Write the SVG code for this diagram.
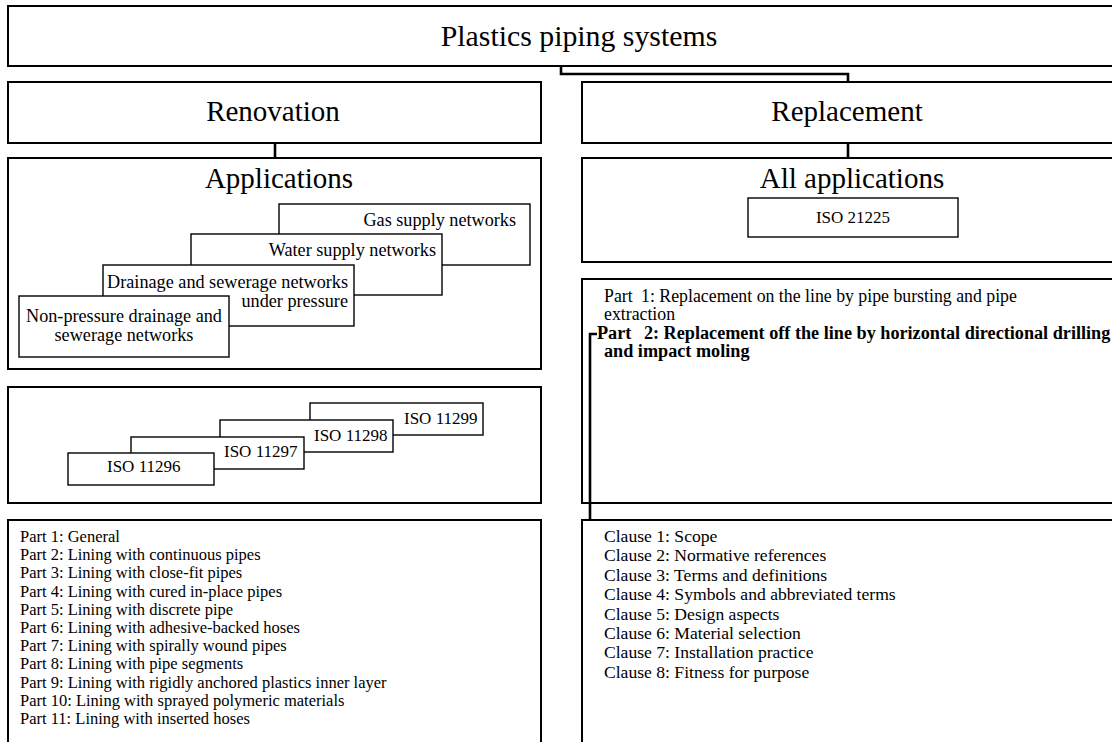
<svg xmlns="http://www.w3.org/2000/svg" width="1112" height="742" viewBox="0 0 1112 742">
<style>
.box{fill:#fff;stroke:#000;stroke-width:2}
.ibox{fill:#fff;stroke:#000;stroke-width:1.4}
.conn{fill:none;stroke:#000;stroke-width:2.6}
text{font-family:"Liberation Serif","Times New Roman",serif;fill:#000}
.t0{font-size:29.8px;text-anchor:middle}
.t1{font-size:29px;text-anchor:middle}
.t2{font-size:18.2px}
.ti{font-size:17px}
.tp{font-size:16.5px}
.tc{font-size:17.6px}
.tr{font-size:17.8px}
.b{font-weight:bold;font-size:18.2px}
.m{text-anchor:middle}
.e{text-anchor:end}
</style>
<rect width="1112" height="742" fill="#fff"/>
<g id="connectors">
<path class="conn" d="M561,66 V74 H848 V82"/>
<path class="conn" d="M275,143 V158"/>
<path class="conn" d="M848,143 V158"/>
</g>
<g id="n-root"><rect class="box" x="8" y="6" width="1112" height="60"/><text class="t0" x="579" y="46">Plastics piping systems</text></g>
<g id="n-renovation"><rect class="box" x="8" y="82" width="533" height="61"/><text class="t1" x="273" y="121">Renovation</text></g>
<g id="n-replacement"><rect class="box" x="582" y="82" width="538" height="61"/><text class="t1" x="847" y="121">Replacement</text></g>
<g id="n-applications"><rect class="box" x="8" y="158" width="533" height="211"/><text class="t1" x="279" y="188">Applications</text>
<g id="n-gas"><rect class="ibox" x="279" y="204" width="251" height="61"/><text class="t2 e" x="516" y="226">Gas supply networks</text></g>
<g id="n-water"><rect class="ibox" x="191" y="234" width="251" height="61"/><text class="t2 e" x="436" y="256">Water supply networks</text></g>
<g id="n-drainage"><rect class="ibox" x="103" y="265" width="251" height="61"/><text class="t2 e" x="348" y="288">Drainage and sewerage networks</text><text class="t2 e" x="348" y="307">under pressure</text></g>
<g id="n-nonpressure"><rect class="ibox" x="19" y="296" width="210" height="61"/><text class="t2 m" x="124" y="322">Non-pressure drainage and</text><text class="t2 m" x="124" y="341">sewerage networks</text></g>
</g>
<g id="n-iso-renovation"><rect class="box" x="8" y="387" width="533" height="116"/>
<g id="n-iso11299"><rect class="ibox" x="310" y="403" width="173" height="32"/><text class="ti" x="404" y="424">ISO 11299</text></g>
<g id="n-iso11298"><rect class="ibox" x="220" y="420" width="173" height="32"/><text class="ti" x="314" y="441">ISO 11298</text></g>
<g id="n-iso11297"><rect class="ibox" x="131" y="437" width="173" height="32"/><text class="ti" x="224" y="457">ISO 11297</text></g>
<g id="n-iso11296"><rect class="ibox" x="68" y="453" width="146" height="32"/><text class="ti" x="107" y="472">ISO 11296</text></g>
</g>
<g id="n-parts-renovation"><rect class="box" x="8" y="520" width="533" height="240"/>
<text class="tp" x="20" y="542">Part 1: General</text>
<text class="tp" x="20" y="560.2">Part 2: Lining with continuous pipes</text>
<text class="tp" x="20" y="578.4">Part 3: Lining with close-fit pipes</text>
<text class="tp" x="20" y="596.6">Part 4: Lining with cured in-place pipes</text>
<text class="tp" x="20" y="614.8">Part 5: Lining with discrete pipe</text>
<text class="tp" x="20" y="633">Part 6: Lining with adhesive-backed hoses</text>
<text class="tp" x="20" y="651.2">Part 7: Lining with spirally wound pipes</text>
<text class="tp" x="20" y="669.4">Part 8: Lining with pipe segments</text>
<text class="tp" x="20" y="687.6">Part 9: Lining with rigidly anchored plastics inner layer</text>
<text class="tp" x="20" y="705.8">Part 10: Lining with sprayed polymeric materials</text>
<text class="tp" x="20" y="724">Part 11: Lining with inserted hoses</text>
</g>
<g id="n-all-applications"><rect class="box" x="582" y="158" width="538" height="104"/><text class="t1" x="852" y="188">All applications</text>
<g id="n-iso21225"><rect class="ibox" x="748" y="198" width="210" height="39"/><text class="ti m" x="853" y="223">ISO 21225</text></g>
</g>
<g id="n-parts-replacement"><rect class="box" x="582" y="279" width="538" height="224"/>
<text class="tr" x="604" y="302">Part <tspan dx="4">1: Replacement on the line by pipe bursting and pipe</tspan></text>
<text class="tr" x="604" y="320">extraction</text>
<text class="b" x="597" y="339">Part <tspan dx="8">2: Replacement off the line by horizontal directional drilling</tspan></text>
<text class="b" x="604" y="357">and impact moling</text>
</g>
<g id="n-clauses"><rect class="box" x="582" y="520" width="538" height="240"/>
<text class="tc" x="604" y="542">Clause 1: Scope</text>
<text class="tc" x="604" y="561.4">Clause 2: Normative references</text>
<text class="tc" x="604" y="580.8">Clause 3: Terms and definitions</text>
<text class="tc" x="604" y="600.2">Clause 4: Symbols and abbreviated terms</text>
<text class="tc" x="604" y="619.6">Clause 5: Design aspects</text>
<text class="tc" x="604" y="639">Clause 6: Material selection</text>
<text class="tc" x="604" y="658.4">Clause 7: Installation practice</text>
<text class="tc" x="604" y="677.8">Clause 8: Fitness for purpose</text>
</g>
<g id="bracket"><path class="conn" d="M597,334 H590 V520"/></g>
</svg>
